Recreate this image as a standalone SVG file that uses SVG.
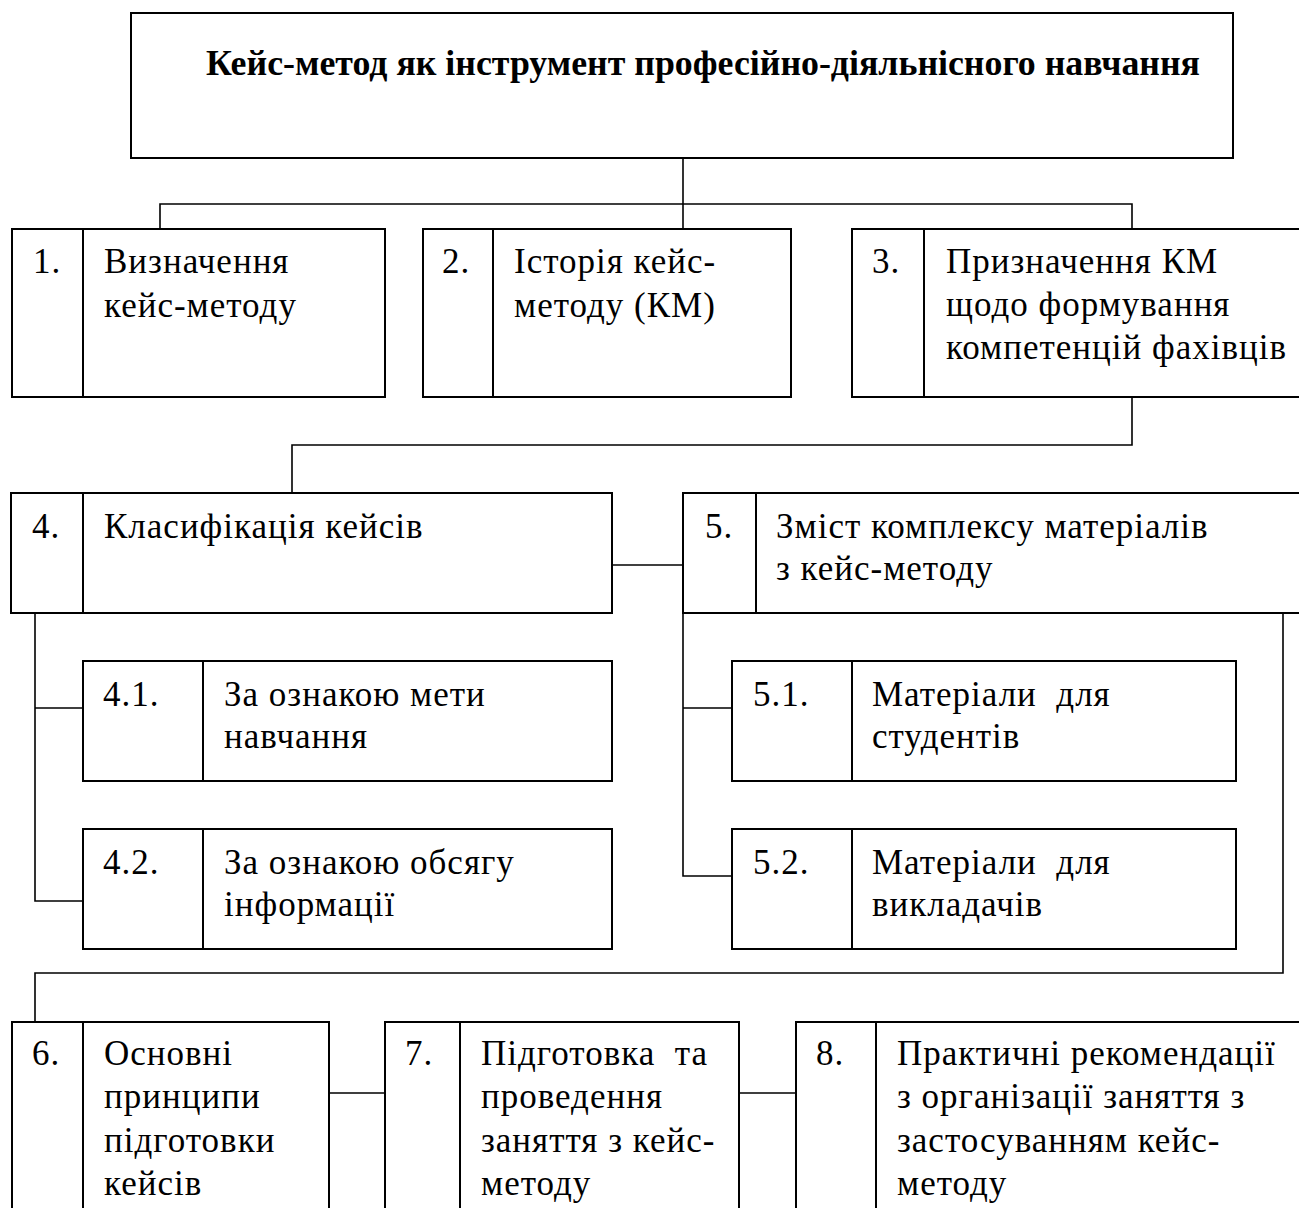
<svg xmlns="http://www.w3.org/2000/svg" width="1299" height="1208" viewBox="0 0 1299 1208">
<style>
.box{fill:#fff;stroke:#000;stroke-width:2}
.div{stroke:#000;stroke-width:2}
.con{fill:none;stroke:#000;stroke-width:1.6}
text{font-family:"Liberation Serif","Times New Roman",serif;font-size:35px;letter-spacing:1px;fill:#000}
.title{font-weight:bold;font-size:36px;letter-spacing:0}
</style>
<rect width="1299" height="1208" fill="#fff"/>
<g id="connectors">
<path class="con" d="M683,158 V229"/>
<path class="con" d="M160,229 V204 H1132 V229"/>
<path class="con" d="M1132,397 V445 H292 V493"/>
<path class="con" d="M612,565 H683"/>
<path class="con" d="M35,613 V901 H83 M35,708 H83"/>
<path class="con" d="M683,613 V876 H732 M683,708 H732"/>
<path class="con" d="M1283,613 V973 H35 V1022"/>
<path class="con" d="M329,1093 H385 M739,1093 H796"/>
</g>
<g id="node-title">
<rect class="box" x="131" y="13" width="1102" height="145"/>
<text class="title" x="206" y="75" textLength="994" lengthAdjust="spacingAndGlyphs">Кейс-метод як інструмент професійно-діяльнісного навчання</text>
</g>
<g id="node-1">
<rect class="box" x="12" y="229" width="373" height="168"/>
<line class="div" x1="83" y1="229" x2="83" y2="397"/>
<text x="33" y="273">1.</text>
<text x="104" y="273">Визначення</text>
<text x="104" y="317">кейс-методу</text>
</g>
<g id="node-2">
<rect class="box" x="423" y="229" width="368" height="168"/>
<line class="div" x1="493" y1="229" x2="493" y2="397"/>
<text x="442" y="273">2.</text>
<text x="514" y="273">Історія кейс-</text>
<text x="514" y="317">методу (КМ)</text>
</g>
<g id="node-3">
<rect class="box" x="852" y="229" width="460" height="168"/>
<line class="div" x1="924" y1="229" x2="924" y2="397"/>
<text x="872" y="273">3.</text>
<text x="946" y="273">Призначення КМ</text>
<text x="946" y="316">щодо формування</text>
<text x="946" y="359">компетенцій фахівців</text>
</g>
<g id="node-4">
<rect class="box" x="11" y="493" width="601" height="120"/>
<line class="div" x1="83" y1="493" x2="83" y2="613"/>
<text x="32" y="538">4.</text>
<text x="104" y="538">Класифікація кейсів</text>
</g>
<g id="node-5">
<rect class="box" x="683" y="493" width="630" height="120"/>
<line class="div" x1="756" y1="493" x2="756" y2="613"/>
<text x="705" y="538">5.</text>
<text x="776" y="538">Зміст комплексу матеріалів</text>
<text x="776" y="580">з кейс-методу</text>
</g>
<g id="node-4-1">
<rect class="box" x="83" y="661" width="529" height="120"/>
<line class="div" x1="203" y1="661" x2="203" y2="781"/>
<text x="103" y="706">4.1.</text>
<text x="224" y="706">За ознакою мети</text>
<text x="224" y="748">навчання</text>
</g>
<g id="node-4-2">
<rect class="box" x="83" y="829" width="529" height="120"/>
<line class="div" x1="203" y1="829" x2="203" y2="949"/>
<text x="103" y="874">4.2.</text>
<text x="224" y="874">За ознакою обсягу</text>
<text x="224" y="916">інформації</text>
</g>
<g id="node-5-1">
<rect class="box" x="732" y="661" width="504" height="120"/>
<line class="div" x1="852" y1="661" x2="852" y2="781"/>
<text x="753" y="706">5.1.</text>
<text x="872" y="706" xml:space="preserve">Матеріали  для</text>
<text x="872" y="748">студентів</text>
</g>
<g id="node-5-2">
<rect class="box" x="732" y="829" width="504" height="120"/>
<line class="div" x1="852" y1="829" x2="852" y2="949"/>
<text x="753" y="874">5.2.</text>
<text x="872" y="874" xml:space="preserve">Матеріали  для</text>
<text x="872" y="916">викладачів</text>
</g>
<g id="node-6">
<rect class="box" x="12" y="1022" width="317" height="200"/>
<line class="div" x1="83" y1="1022" x2="83" y2="1222"/>
<text x="32" y="1065">6.</text>
<text x="104" y="1065">Основні</text>
<text x="104" y="1108">принципи</text>
<text x="104" y="1152">підготовки</text>
<text x="104" y="1195">кейсів</text>
</g>
<g id="node-7">
<rect class="box" x="385" y="1022" width="354" height="200"/>
<line class="div" x1="460" y1="1022" x2="460" y2="1222"/>
<text x="405" y="1065">7.</text>
<text x="481" y="1065" xml:space="preserve">Підготовка  та</text>
<text x="481" y="1108">проведення</text>
<text x="481" y="1152">заняття з кейс-</text>
<text x="481" y="1195">методу</text>
</g>
<g id="node-8">
<rect class="box" x="796" y="1022" width="520" height="200"/>
<line class="div" x1="876" y1="1022" x2="876" y2="1222"/>
<text x="816" y="1065">8.</text>
<text x="897" y="1065">Практичні рекомендації</text>
<text x="897" y="1108">з організації заняття з</text>
<text x="897" y="1152">застосуванням кейс-</text>
<text x="897" y="1195">методу</text>
</g>
</svg>
